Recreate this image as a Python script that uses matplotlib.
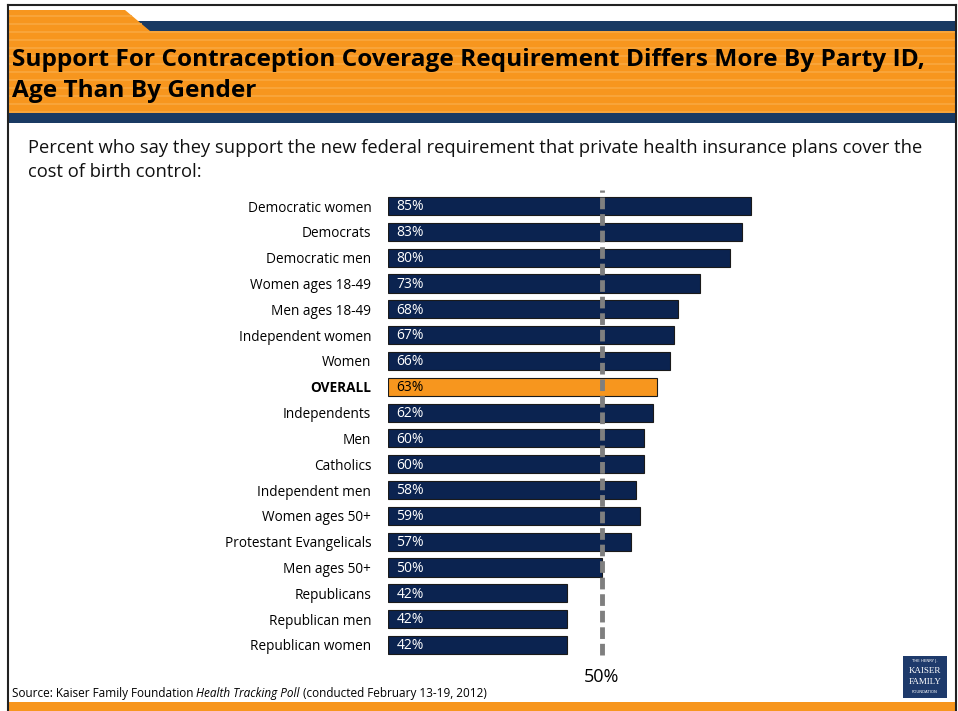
import matplotlib
matplotlib.use("Agg")
import matplotlib.pyplot as plt
from matplotlib.patches import Rectangle, Polygon

categories = ["Democratic women", "Democrats", "Democratic men", "Women ages 18-49",
              "Men ages 18-49", "Independent women", "Women", "OVERALL", "Independents",
              "Men", "Catholics", "Independent men", "Women ages 50+",
              "Protestant Evangelicals", "Men ages 50+", "Republicans",
              "Republican men", "Republican women"]
values = [85, 83, 80, 73, 68, 67, 66, 63, 62, 60, 60, 58, 59, 57, 50, 42, 42, 42]
highlight = "OVERALL"
reference_value = 50

title = "Support For Contraception Coverage Requirement Differs More By Party ID,\nAge Than By Gender"
subtitle = "Percent who say they support the new federal requirement that private health insurance plans cover the\ncost of birth control:"

W, H = 958, 711
NAVY = "#0B2350"
BAND_NAVY = "#193A63"
ORANGE = "#F7961E"
STRIPE = "#F9A83F"
FONT = ["Open Sans", "DejaVu Sans"]
TFONT = ["Open Sans", "DejaVu Sans"]

fig = plt.figure(figsize=(W / 100, H / 100), dpi=100)
bg = fig.add_axes([0, 0, 1, 1])
bg.set_xlim(0, W)
bg.set_ylim(H, 0)
bg.axis("off")

# header graphics
bg.add_patch(Rectangle((138, 21), W - 3 - 138, 10, color=BAND_NAVY, lw=0))
bg.add_patch(Polygon([(9, 10), (125, 10), (150, 31), (W - 3, 31), (W - 3, 113), (9, 113)],
                     closed=True, color=ORANGE, lw=0))
for y in range(16, 113, 8):
    x0 = 9
    x1 = 125 + (y - 10) * 25 / 21 if y < 31 else W - 3
    bg.plot([x0, x1], [y, y], color=STRIPE, lw=1.2, solid_capstyle="butt")
bg.add_patch(Rectangle((9, 113), W - 12, 10, color=BAND_NAVY, lw=0))
bg.add_patch(Rectangle((9, 702), W - 12, 9, color=ORANGE, lw=0))
# frame
bg.plot([8, 8], [5, 711], color="#222222", lw=1.5)
bg.plot([8, W - 2], [5, 5], color="#222222", lw=1.5)
bg.plot([W - 2, W - 2], [5, 711], color="#222222", lw=1.5)

bg.text(12, 60, title.split("\n")[0], fontsize=17.6, fontweight="bold", family=TFONT,
        va="center", ha="left", color="black")
bg.text(12, 91, title.split("\n")[1], fontsize=17.6, fontweight="bold", family=TFONT,
        va="center", ha="left", color="black")
bg.text(28, 148, subtitle.split("\n")[0], fontsize=13.2, family=FONT, va="center", ha="left",
        color="#111111")
bg.text(28, 172, subtitle.split("\n")[1], fontsize=13.2, family=FONT, va="center", ha="left",
        color="#111111")

# source
fs = 8.5
src = bg.text(12, 693, "Source: Kaiser Family Foundation ", fontsize=fs, family=FONT,
              va="center", ha="left")
fig.canvas.draw()
inv = bg.transData.inverted()
xend = inv.transform((src.get_window_extent().x1, 0))[0]
t2 = bg.text(xend, 693, "Health Tracking Poll", fontsize=fs, family=FONT, style="italic",
             va="center", ha="left")
fig.canvas.draw()
xend2 = inv.transform((t2.get_window_extent().x1, 0))[0]
bg.text(xend2, 693, " (conducted February 13-19, 2012)", fontsize=fs, family=FONT,
        va="center", ha="left")

# logo
bg.add_patch(Rectangle((903, 656), 44, 42, color="#1E3A6B", lw=0))
bg.text(925, 661, "THE HENRY J.", fontsize=2.8, color="white", ha="center", va="center")
bg.text(925, 671, "KAISER", fontsize=6.5, color="white", ha="center", va="center", family="Liberation Serif")
bg.text(925, 682, "FAMILY", fontsize=6.5, color="white", ha="center", va="center", family="Liberation Serif")
bg.text(925, 692, "FOUNDATION", fontsize=2.8, color="white", ha="center", va="center")

# chart axes
n = len(categories)
step = 25.8
top = 206 - step / 2
bottom = 645 + step / 2
left = 388
px_per = 4.27
axh = bottom - top
ax = fig.add_axes([left / W, 1 - bottom / H, 100 * px_per / W, axh / H])
ax.set_xlim(0, 100)
ax.set_ylim(n - 0.5, -0.5)
ypos = list(range(n))
colors = [ORANGE if c == highlight else NAVY for c in categories]
ax.barh(ypos, values, height=0.7, color=colors, edgecolor="#1a1a1a", linewidth=0.8, zorder=2)
ax.axvline(reference_value, color="#7F7F7F", lw=3.5, ls=(0, (2.4, 1.0)), zorder=3,
           ymin=3 / axh, ymax=1 + 3 / axh, clip_on=False)
for y, v, c in zip(ypos, values, categories):
    ax.text(2, y + 0.03, f"{v}%", color="black" if c == highlight else "white",
            fontsize=10, family=FONT, va="center", ha="left", zorder=4)
ax.set_yticks(ypos)
ax.set_yticklabels(categories, fontsize=9.8, family=FONT)
for lab in ax.get_yticklabels():
    if lab.get_text() == highlight:
        lab.set_fontweight("bold")
ax.tick_params(axis="y", length=0, pad=12)
ax.set_xticks([])
for s in ax.spines.values():
    s.set_visible(False)
ax.patch.set_alpha(0)
ax.text(reference_value, n - 0.5 + 19 / step, f"{reference_value}%", fontsize=13,
        family=FONT, ha="center", va="center")

fig.savefig("out.png", dpi=100)
